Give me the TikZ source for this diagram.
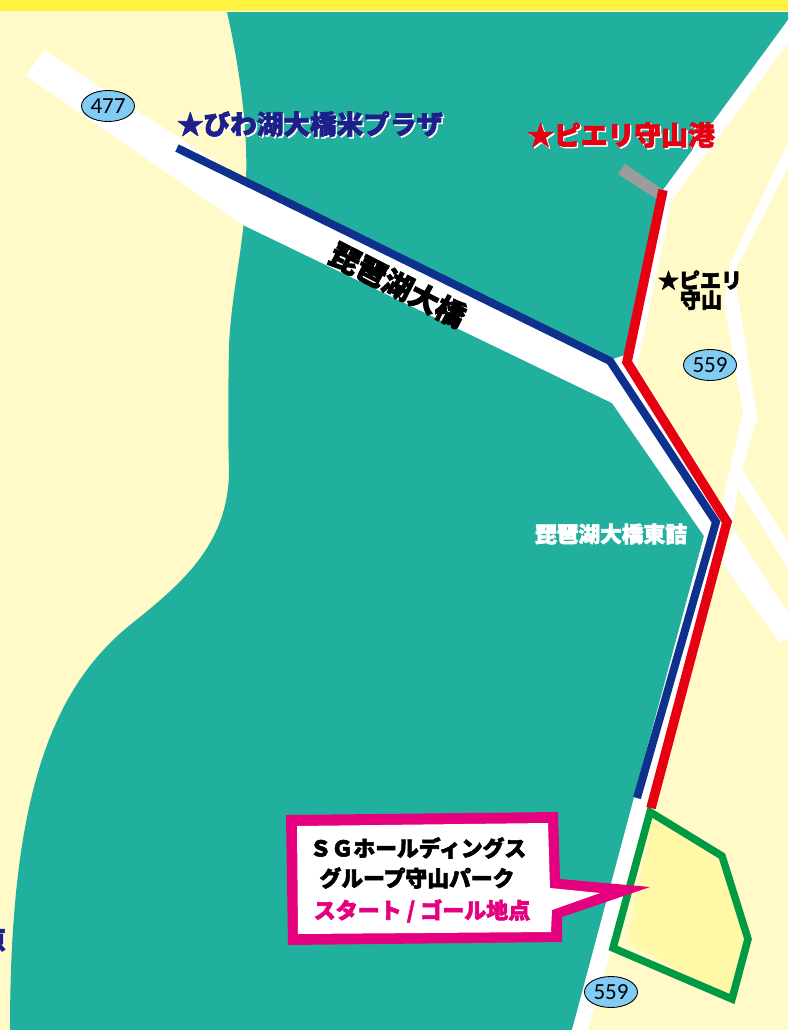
\documentclass[tikz,border=0pt]{standalone}
\usepackage{fontspec}
\setmainfont{Carlito}
\newfontfamily\jp[BoldFeatures={FakeBold=2.6}]{Noto Sans CJK JP}
\definecolor{land}{HTML}{FFFAC7}
\definecolor{topband}{HTML}{FFF33F}
\definecolor{water}{HTML}{22B09E}
\definecolor{routeblue}{HTML}{0F318E}
\definecolor{labelblue}{HTML}{1D2088}
\definecolor{routered}{HTML}{E60012}
\definecolor{parkgreen}{HTML}{009944}
\definecolor{parkfill}{HTML}{FFF8A6}
\definecolor{magentaink}{HTML}{E4007F}
\definecolor{shield}{HTML}{80CCF5}
\definecolor{pier}{HTML}{9C9C9C}
\tikzset{
  road/.style={fill=white,draw=none},
  route/.style={line join=miter,miter limit=10,line cap=butt},
  shieldnode/.style={ellipse,draw=black,line width=0.9pt,fill=shield,minimum width=53pt,minimum height=31pt,inner sep=0pt,font=\fontsize{23}{23}\selectfont},
  maptext/.style={inner sep=0pt,font=\jp\bfseries},
}
\usetikzlibrary{shapes.geometric}
\newcommand{\shadowlabel}[6]{% name, x, y, size, colour, text
  \node[maptext,text=white,font=\jp\bfseries\fontsize{#4}{#4}\selectfont] (#1s) at (#2+1.5,#3+1.5) {#6};
  \node[maptext,text=#5,font=\jp\bfseries\fontsize{#4}{#4}\selectfont] (#1) at (#2,#3) {#6};
}
\begin{document}
\begin{tikzpicture}[x=1pt,y=-1pt]
\useasboundingbox (0,0) rectangle (788,1030);
\clip (0,0) rectangle (788,1030);
% ground
\fill[land] (0,0) rectangle (788,1030);
% water
\fill[water] (227,12) -- (788,12) -- (788,20) -- (665,190) -- (625,362) -- (716,522) -- (640,800) -- (572,1030) -- (10,1030)
  .. controls (10,800) and (50,690) .. (130,625)
  .. controls (180,585) and (229,545) .. (229,470)
  .. controls (228,440) and (228,400) .. (229,345)
  .. controls (232,285) and (246,240) .. (246,180)
  .. controls (248,130) and (240,70) .. (227,12) -- cycle;
\fill[topband] (0,0) rectangle (788,11);
\fill[white] (227,11) rectangle (788,12);
% roads
\fill[road] (44,50) -- (26,76) -- (243,225) -- (612,403) -- (704,536) -- (660,700) -- (572,1030) -- (588,1030) -- (654,800) -- (732,525) -- (637,367) -- (625,355) -- (610,360) -- (255,187) -- cycle;
\fill[road] (788,20) -- (788,43) -- (672,200) -- (637,367) -- (625,362) -- (663,190) -- cycle;
\fill[road] (788,143) -- (730,263) -- (724,303) -- (743,413) -- (722,503) -- (732,527) -- (738,488) -- (755,423) -- (758,422) -- (737,290) -- (737,267) -- (788,167) -- cycle;
\fill[road] (743,470) -- (788,543) -- (788,568) -- (738,488) -- cycle;
\fill[road] (733,528) -- (788,613) -- (788,638) -- (780,643) -- (722,563) -- cycle;
% pier
\fill[pier] (625,164) -- (618,174) -- (658,200) -- (663,190) -- cycle;
% park
\fill[parkfill] (652,818) -- (722,856) -- (748,939) -- (732,999) -- (628,942) -- cycle;
\draw[parkgreen,line width=7.5pt,line join=miter] (650,812) -- (722,856) -- (748,939) -- (732,999) -- (613,948) -- cycle;
% routes
\draw[routeblue,line width=8pt,route] (177,148) -- (610,361) -- (716,522) -- (637,798);
\draw[routered,line width=9.5pt,route] (663,190) -- (627,362) -- (727,522) -- (651,808);
% callout
\fill[magentaink] (286,815) -- (558,812) -- (560,879) -- (650,887) -- (562,917) -- (562,942) -- (288,945) -- cycle;
\fill[white] (297,826) -- (548,823) -- (550,888) -- (600,893) -- (552,910) -- (551,932) -- (298,934) -- cycle;
% shields
\node[shieldnode] (r477) at (108,106) {477};
\node[shieldnode] (r559a) at (710,365) {559};
\node[shieldnode] (r559b) at (611,992) {559};
% labels
\shadowlabel{plaza}{310}{124}{26.6}{labelblue}{★びわ湖大橋米プラザ}
\shadowlabel{port}{621}{135}{26.8}{routered}{★ピエリ守山港}
\node[maptext,text=black,font=\jp\bfseries\fontsize{29.5}{29.5}\selectfont,rotate=-27] (bridge) at (398,285) {琵琶湖大橋};
\node[maptext,text=black,font=\jp\bfseries\fontsize{21}{21}\selectfont] (pierA) at (700,280) {★ピエリ};
\node[maptext,text=black,font=\jp\bfseries\fontsize{21}{21}\selectfont] (pierB) at (701,300) {守山};
\node[maptext,text=white,font=\jp\bfseries\fontsize{21.7}{21.7}\selectfont] (east) at (611,534) {琵琶湖大橋東詰};
\node[maptext,text=black,font=\jp\bfseries\fontsize{21.8}{21.8}\selectfont] (parkA) at (418,848) {ＳＧホールディングス};
\node[maptext,text=black,font=\jp\bfseries\fontsize{21.8}{21.8}\selectfont] (parkB) at (417,878) {グループ守山パーク};
\node[maptext,text=magentaink,font=\jp\bfseries\fontsize{22}{22}\selectfont] (parkC) at (422,911) {スタート / ゴール地点};
\node[maptext,text=labelblue,font=\jp\bfseries\fontsize{26}{26}\selectfont,anchor=east] (edge) at (6,941) {原};
\end{tikzpicture}
\end{document}
